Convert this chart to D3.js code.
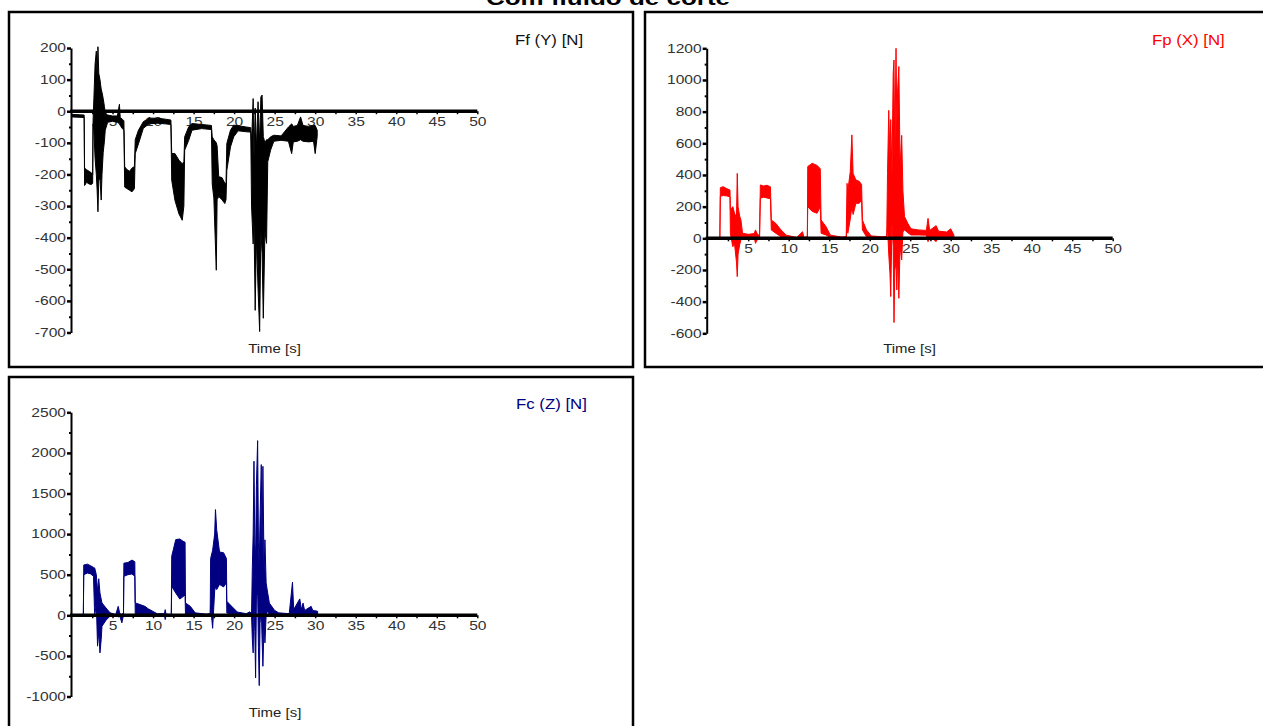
<!DOCTYPE html>
<html>
<head>
<meta charset="utf-8">
<script src="https://cdn.jsdelivr.net/npm/d3@7"></script>
<style>
  html, body { margin: 0; padding: 0; background: #fff; }
  svg { display: block; }
  text { font-family: "Liberation Sans", Arial, sans-serif; }
</style>
</head>
<body>
<svg id="chart" width="1263" height="726"></svg>
<script>
// ---------------- DATA ----------------
const chartTitle = "Com fluido de corte";
const xAxisLabel = "Time [s]";
const xMajorTicks = [5, 10, 15, 20, 25, 30, 35, 40, 45, 50];
const xMinorTicks = [2.5, 7.5, 12.5, 17.5, 22.5, 27.5, 32.5, 37.5, 42.5, 47.5];

const ffLabel = "Ff (Y) [N]";
const ffYTicks = [200, 100, 0, -100, -200, -300, -400, -500, -600, -700];
const ffYMinor = [150, 50, -50, -150, -250, -350, -450, -550, -650];
// [time s, upper envelope N, lower envelope N]
const ffEnvelope = [
  [0, -10, -18], [1.5, -12, -20], [1.55, -180, -235], [1.8, -185, -225], [2.1, -190, -230],
  [2.4, -195, -232], [2.55, -200, -228], [2.6, -30, -40], [2.7, 40, -60], [2.85, 150, -150],
  [3.0, 190, -200], [3.1, 110, -250], [3.2, 204, -318], [3.3, 120, -220], [3.45, 100, -210],
  [3.6, 70, -281], [3.7, 60, -200], [3.85, 40, -130], [4.0, 15, -95], [4.1, -5, -60],
  [4.4, -12, -35], [5.0, -15, -32], [5.6, -15, -35], [5.85, 22, -40], [5.95, -20, -45],
  [6.2, -25, -55], [6.4, -30, -60], [6.5, -176, -240], [6.8, -185, -245], [7.1, -190, -250],
  [7.4, -180, -255], [7.7, -175, -245], [7.8, -90, -134], [8.2, -60, -103], [8.8, -33, -54],
  [9.5, -22, -40], [10.5, -22, -38], [11.5, -25, -40], [12.2, -28, -42], [12.3, -134, -218],
  [12.7, -134, -282], [13.2, -155, -325], [13.6, -166, -345], [13.8, -160, -300], [13.9, -81, -123],
  [14.4, -49, -92], [14.8, -39, -60], [16.0, -42, -55], [17.2, -45, -58], [17.3, -81, -230],
  [17.5, -90, -275], [17.8, -100, -503], [17.9, -110, -280], [18.1, -207, -270], [18.5, -210, -280],
  [18.85, -228, -292], [19.0, -230, -280], [19.1, -102, -187], [19.55, -60, -113], [19.95, -44, -81],
  [20.5, -46, -62], [21.5, -50, -65], [22.05, -52, -66], [22.15, -100, -300], [22.35, 40, -420],
  [22.45, -150, -345], [22.6, 10, -630], [22.75, -120, -400], [22.95, 30, -560], [23.15, -100, -697],
  [23.3, 45, -380], [23.45, 51, -450], [23.6, -80, -655], [23.8, -100, -380], [24.0, -90, -418],
  [24.15, -90, -160], [24.5, -81, -123], [24.9, -76, -95], [25.8, -78, -92], [26.7, -50, -95],
  [27.1, -40, -134], [27.3, -48, -97], [27.8, -45, -95], [28.2, -18, -90], [28.5, -45, -95],
  [29.2, -48, -97], [29.8, -45, -95], [30.0, -45, -134], [30.25, -60, -80]
];

const fpLabel = "Fp (X) [N]";
const fpYTicks = [1200, 1000, 800, 600, 400, 200, 0, -200, -400, -600];
const fpYMinor = [1100, 900, 700, 500, 300, 100, -100, -300, -500];
const fpEnvelope = [
  [0, 0, 0], [1.5, 2, -2], [1.56, 320, 265], [1.9, 326, 270], [2.3, 315, 268], [2.75, 305, 262],
  [2.8, 180, 30], [3.1, 200, -53], [3.3, 160, -30], [3.55, 130, -150], [3.65, 410, -242],
  [3.75, 200, -100], [3.95, 140, -40], [4.1, 116, -10], [4.3, 32, 5], [5.0, 25, 5], [5.75, 30, 5],
  [5.9, 53, -32], [6.1, 30, -10], [6.4, 15, 0], [6.5, 337, 253], [6.9, 330, 260], [7.3, 335, 255],
  [7.75, 325, 250], [7.85, 116, 53], [8.4, 95, 32], [9.05, 53, 10], [9.7, 20, 2], [11.0, 5, 0],
  [11.7, 42, 0], [11.9, 5, 0], [12.3, 10, 0], [12.35, 453, 200], [12.9, 474, 170], [13.5, 460, 158],
  [13.9, 440, 200], [14.0, 116, 32], [14.6, 74, 21], [15.15, 20, 5], [16.5, 8, 2], [17.1, 10, 2],
  [17.2, 347, 74], [17.3, 300, 32], [17.6, 420, 120], [17.8, 653, 200], [17.95, 410, 150],
  [18.3, 368, 221], [18.7, 360, 221], [19.0, 340, 240], [19.1, 116, 53], [19.6, 53, 10],
  [20.2, 15, 5], [21.5, 10, 2], [22.1, 12, 2], [22.2, 410, 74], [22.35, 808, -100], [22.5, 500, -221],
  [22.6, 750, -368], [22.75, 400, 100], [22.9, 1042, -50], [23.0, 1126, -532], [23.1, 500, -200],
  [23.25, 1200, -150], [23.35, 700, -326], [23.45, 937, -100], [23.6, 1085, -379], [23.75, 453, -50],
  [23.95, 650, -137], [24.1, 300, 40], [24.3, 137, 53], [24.7, 95, 35], [25.1, 60, 21], [26.0, 53, 21],
  [27.0, 50, 20], [27.2, 126, -21], [27.4, 50, 15], [28.2, 80, -21], [28.5, 45, 10], [29.5, 40, 10],
  [30.0, 60, 5], [30.4, 20, 5]
];

const fcLabel = "Fc (Z) [N]";
const fcYTicks = [2500, 2000, 1500, 1000, 500, 0, -500, -1000];
const fcYMinor = [2250, 1750, 1250, 750, 250, -250, -750];
const fcEnvelope = [
  [0, 0, 0], [1.4, 5, -5], [1.45, 620, 500], [1.9, 630, 520], [2.3, 610, 510], [2.65, 590, 480],
  [2.8, 583, -11], [3.0, 500, 150], [3.15, 300, -380], [3.3, 450, -200], [3.45, 274, -463],
  [3.6, 200, -300], [3.7, 152, -135], [4.2, 90, -60], [4.7, 30, -10], [5.4, 10, 0], [5.7, 110, -20],
  [5.9, 20, -10], [6.15, 10, -93], [6.35, 30, 0], [6.4, 642, 480], [6.9, 650, 500], [7.4, 680, 510],
  [7.75, 660, 480], [7.8, 153, 9], [8.4, 132, 15], [9.0, 110, 9], [9.4, 80, 5], [10.5, 20, 0],
  [11.4, 20, 0], [11.5, 70, -53], [11.6, 15, 0], [12.25, 10, 0], [12.3, 727, 357], [12.8, 932, 274],
  [13.3, 940, 200], [13.7, 912, 230], [13.95, 900, 250], [14.0, 152, 9], [14.6, 110, 9], [15.2, 30, 2],
  [16.5, 15, 0], [17.05, 20, 0], [17.1, 700, 120], [17.35, 800, -160], [17.6, 1000, 300],
  [17.7, 1302, 350], [17.85, 1054, 317], [18.2, 780, 380], [18.7, 770, 350], [19.05, 700, 400],
  [19.1, 172, 29], [19.7, 110, 15], [20.4, 40, 5], [21.5, 20, 2], [21.95, 43, 0], [22.15, 20, 0],
  [22.25, 600, -300], [22.35, 1000, -463], [22.45, 1897, 100], [22.55, 900, -200], [22.65, 700, -771],
  [22.75, 1600, 200], [22.9, 2151, 300], [23.0, 900, -400], [23.1, 600, -866], [23.2, 1200, -100],
  [23.35, 1856, 100], [23.45, 700, -300], [23.55, 1835, -628], [23.7, 500, -100], [23.8, 930, -340],
  [23.95, 400, 0], [24.1, 300, 50], [24.35, 150, 10], [25.0, 60, 5], [25.5, 30, 2], [26.8, 20, 0],
  [27.2, 407, 0], [27.35, 70, 0], [28.1, 202, 0], [28.3, 70, 0], [28.5, 150, 0], [28.7, 60, 0],
  [29.5, 110, 0], [29.7, 60, 0], [30.3, 50, 0]
];

// ---------------- LAYOUT ----------------
const panels = [
  { label: ffLabel, data: ffEnvelope, yTicks: ffYTicks, yMinor: ffYMinor, color: "#000000", labelColor: "#111",
    frame: [9, 12, 624, 355], xr: [72, 477.3], yd: [-700, 200], yr: [332.5, 48],
    labelPos: [515, 45], timePos: [274.5, 353] },
  { label: fpLabel, data: fpEnvelope, yTicks: fpYTicks, yMinor: fpYMinor, color: "#ff0000", labelColor: "#ff0000",
    frame: [645, 12, 640, 355], xr: [707.7, 1112.7], yd: [-600, 1200], yr: [333.3, 48.3],
    labelPos: [1152, 45], timePos: [909.5, 353] },
  { label: fcLabel, data: fcEnvelope, yTicks: fcYTicks, yMinor: fcYMinor, color: "#000080", labelColor: "#000080",
    frame: [9, 377, 624, 380], xr: [72, 477.3], yd: [-1000, 2500], yr: [696.5, 412.3],
    labelPos: [516, 409], timePos: [275, 717] }
];

const svg = d3.select("#chart");
const TS = 1.3; // horizontal text stretch seen in the reference

svg.append("text")
  .attr("transform", "translate(608,5) scale(1.3,1)")
  .attr("text-anchor", "middle")
  .attr("font-size", 20).attr("font-weight", "bold").attr("fill", "#000")
  .text(chartTitle);

panels.forEach(p => {
  const x = d3.scaleLinear().domain([0, 50]).range(p.xr);
  const y = d3.scaleLinear().domain(p.yd).range(p.yr);
  const g = svg.append("g");

  g.append("rect")
    .attr("x", p.frame[0]).attr("y", p.frame[1]).attr("width", p.frame[2]).attr("height", p.frame[3])
    .attr("fill", "none").attr("stroke", "#000").attr("stroke-width", 2.5);

  // Y axis
  const yg = g.append("g").attr("transform", `translate(${p.xr[0] - 1},0)`)
    .attr("font-size", 12);
  yg.call(d3.axisLeft(y).tickValues(p.yTicks).tickSize(4).tickSizeOuter(0).tickPadding(0)
    .tickFormat(d => String(d)));
  yg.select(".domain").attr("stroke", "#000").attr("stroke-width", 2);
  yg.selectAll(".tick line").attr("stroke", "#000").attr("stroke-width", 2.5);
  yg.selectAll(".tick text").attr("fill", "#333").attr("font-size", 12)
    .attr("x", -5 / TS).attr("transform", `scale(${TS},1)`);
  const ygm = g.append("g").attr("transform", `translate(${p.xr[0] - 1},0)`);
  ygm.call(d3.axisLeft(y).tickValues(p.yMinor).tickSize(2).tickSizeOuter(0).tickFormat(""));
  ygm.select(".domain").remove();
  ygm.selectAll(".tick line").attr("stroke", "#000").attr("stroke-width", 2);

  // X axis labels and ticks (line redrawn on top of data)
  const xg = g.append("g").attr("transform", `translate(0,${y(0)})`).attr("font-size", 12);
  xg.call(d3.axisBottom(x).tickValues(xMajorTicks).tickSize(3).tickSizeOuter(0).tickPadding(3)
    .tickFormat(d => String(d)));
  xg.select(".domain").remove();
  xg.selectAll(".tick line").attr("stroke", "#000").attr("stroke-width", 1.5);
  xg.selectAll(".tick text").attr("fill", "#333").attr("font-size", 12)
    .attr("transform", `scale(${TS},1)`);
  const xgm = g.append("g").attr("transform", `translate(0,${y(0)})`);
  xgm.call(d3.axisBottom(x).tickValues(xMinorTicks).tickSize(3).tickSizeOuter(0).tickFormat(""));
  xgm.select(".domain").remove();
  xgm.selectAll(".tick line").attr("stroke", "#000").attr("stroke-width", 1.5);

  // Signal envelope
  const area = d3.area().x(d => x(d[0])).y0(d => y(d[2])).y1(d => y(d[1]));
  g.append("path").datum(p.data).attr("d", area)
    .attr("fill", p.color).attr("stroke", p.color).attr("stroke-width", 1)
    .attr("stroke-linejoin", "round");

  // X axis line on top
  g.append("line")
    .attr("x1", x(0) - 2).attr("x2", x(50))
    .attr("y1", y(0)).attr("y2", y(0))
    .attr("stroke", "#000").attr("stroke-width", 3.5);

  // Series label
  g.append("text")
    .attr("transform", `translate(${p.labelPos[0]},${p.labelPos[1]}) scale(1.2,1)`)
    .attr("font-size", 14).attr("fill", p.labelColor)
    .text(p.label);

  // Time label
  g.append("text")
    .attr("transform", `translate(${p.timePos[0]},${p.timePos[1]}) scale(1.15,1)`)
    .attr("text-anchor", "middle").attr("font-size", 13).attr("fill", "#222")
    .text(xAxisLabel);
});
</script>
</body>
</html>
